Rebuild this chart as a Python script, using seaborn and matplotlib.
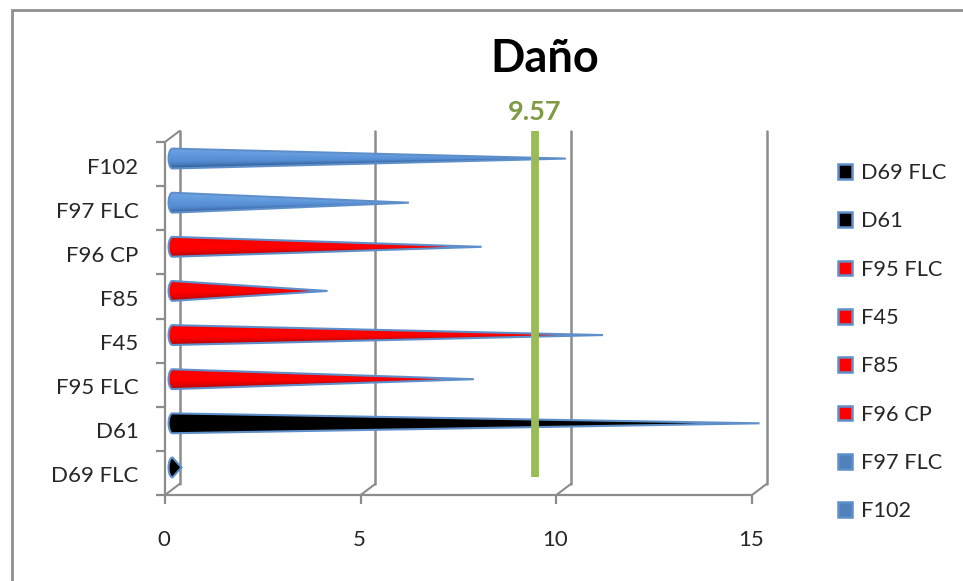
import numpy as np
import pandas as pd
import matplotlib
matplotlib.use("Agg")
import matplotlib.pyplot as plt
from matplotlib.colors import to_rgb
from matplotlib.patches import Patch, Polygon, Rectangle
from matplotlib.transforms import ScaledTranslation, blended_transform_factory
import seaborn as sns

# Damage per specimen, listed from the bottom of the chart to the top
specimens = ["D69 FLC", "D61", "F95 FLC", "F45", "F85", "F96 CP", "F97 FLC", "F102"]
damage = [0.23, 15.0, 7.7, 11.0, 3.96, 7.9, 6.04, 10.05]
groups = ["black", "black", "red", "red", "red", "red", "blue", "blue"]
critical_damage = 9.57
x_ticks = [0, 5, 10, 15]

FACE = {"black": "#000000", "red": "#ff0000", "blue": "#4f81bd"}
SHADES = {
    "black": ("#000000", "#000000", "#000000"),
    "red": ("#f80000", "#ff0000", "#a80808"),
    "blue": ("#6ea4e4", "#5a92d8", "#2f5c96"),
}
OUTLINE = "#5f8fca"
GREY = "#8c8c8c"
TEXT = "#262626"
GREEN = "#9bbb59"

W, H = 963, 581
sns.set_theme(style="white")
plt.rcParams["font.family"] = ["Lato", "DejaVu Sans"]

fig = plt.figure(figsize=(W / 100, H / 100), dpi=100)
ax = fig.add_axes([165 / W, 1 - 495 / H, (752 - 165) / W, (495 - 142) / H])
fig.add_artist(Rectangle((12 / W, -0.02), 2, 1.02 - 10 / H, transform=fig.transFigure,
                         fill=False, edgecolor="#8f8f8f", linewidth=2))

frame = pd.DataFrame({"specimen": specimens, "damage": damage, "group": groups})
top_down = specimens[::-1]
sns.barplot(data=frame, x="damage", y="specimen", order=top_down, hue="group",
            palette=FACE, dodge=False, legend=False, width=0.45, errorbar=None, ax=ax)

ax.set_xlim(0, 15)
ax.set_ylim(7.5, -0.5)
ax.set_xlabel("")
ax.set_ylabel("")


def px_shift(dx, dy):
    return ScaledTranslation(dx / 100, dy / 100, fig.dpi_scale_trans)


cone_tr = ax.transData + px_shift(7.5, 5.5)
wall_tr = ax.transData + px_shift(14.5, 11)

# Back wall: gridlines, with the short floor connectors at each tick
for tick in x_ticks:
    ax.plot([tick, tick], [7.5, -0.5], transform=wall_tr, color=GREY, lw=1.8,
            clip_on=False, zorder=1)
    x0, y0 = ax.transData.transform((tick, 7.5))
    x1, y1 = wall_tr.transform((tick, 7.5))
    ax.plot([x0, x1], [y0, y1], transform=None, color=GREY, lw=1.5, clip_on=False, zorder=1)
x0, y0 = ax.transData.transform((0, -0.5))
x1, y1 = wall_tr.transform((0, -0.5))
ax.plot([x0, x1], [y0, y1], transform=None, color=GREY, lw=1.5, clip_on=False, zorder=1)

# Turn each seaborn bar into a shaded cone lying along the value axis
for bar in list(ax.patches):
    width = bar.get_width()
    centre = bar.get_y() + bar.get_height() / 2
    half = bar.get_height() / 2
    group = groups[specimens.index(top_down[int(round(centre))])]
    bar.remove()

    cap = 0.1
    theta = np.linspace(np.pi / 2, 3 * np.pi / 2, 24)
    outline = np.column_stack([cap * np.cos(theta), centre + half * np.sin(theta)])
    outline = np.vstack([outline, [width, centre]])

    xs = np.linspace(-cap, width, 500)
    ys = np.linspace(centre - half, centre + half, 60)
    grid_x, grid_y = np.meshgrid(xs, ys)
    local = np.maximum(half * (1 - np.clip(grid_x, 0, None) / width), 1e-4)
    u = np.clip((grid_y - centre) / local, -1, 1)
    top, mid, low = (np.array(to_rgb(c)) for c in SHADES[group])
    t_up = np.clip(-u, 0, 1)[..., None]
    t_dn = np.clip(u, 0, 1)[..., None] ** 2
    rgb = mid * (1 - t_up) * (1 - t_dn) + top * t_up + low * t_dn

    im = ax.imshow(rgb, extent=(-cap, width, centre + half, centre - half), aspect="auto",
                   origin="upper", interpolation="bilinear", zorder=3)
    im.set_transform(cone_tr)
    shape = Polygon(outline, closed=True, transform=cone_tr, facecolor="none",
                    edgecolor=OUTLINE, linewidth=1.5, joinstyle="miter", zorder=4, clip_on=False)
    ax.add_patch(shape)
    im.set_clip_path(shape)

ax.set_xlim(0, 15)
ax.set_ylim(7.5, -0.5)

# Critical damage marker
marker_tr = blended_transform_factory(ax.transData + px_shift(-5, 0), ax.transAxes)
ax.plot([critical_damage, critical_damage], [0.051, 1.031], transform=marker_tr, color=GREEN,
        lw=5.6, solid_capstyle="butt", clip_on=False, zorder=5)
ax.text(critical_damage, 1.085, f"{critical_damage:.2f}", transform=marker_tr, color="#7f9b45",
        fontsize=19.5, fontweight="bold", ha="center", va="center", zorder=6)

fig.text(545 / W, 1 - 59 / H, "Daño", fontsize=32.5, fontweight="bold", color="black",
         ha="center", va="center")

# Axes: category labels sit between boundary ticks
sns.despine(ax=ax, top=True, right=True)
for side in ("left", "bottom"):
    ax.spines[side].set_color(GREY)
    ax.spines[side].set_linewidth(1.6)
ax.set_xticks(x_ticks)
ax.set_yticks(range(len(top_down)))
ax.set_yticklabels(top_down)
ax.set_yticks(np.arange(-0.5, 8), minor=True)
ax.tick_params(axis="y", which="major", length=0, pad=19, labelsize=16, labelcolor=TEXT)
ax.tick_params(axis="y", which="minor", length=6.5, width=1.6, color=GREY, left=True)
ax.tick_params(axis="x", which="major", length=6.5, width=1.6, color=GREY, pad=18.5,
               labelsize=16, labelcolor=TEXT, bottom=True)
for label in ax.get_yticklabels():
    label.set_transform(label.get_transform() + px_shift(0, -1.5))
for label in ax.get_xticklabels():
    label.set_transform(label.get_transform() + px_shift(-1, 0))

handles = [Patch(facecolor=FACE[g], edgecolor=OUTLINE, linewidth=1.8, label=s)
           for s, g in zip(specimens, groups)]
fig.legend(handles=handles, loc="upper left", bbox_to_anchor=(837.5 / W, 1 - 163 / H),
           frameon=False, fontsize=15.7, labelcolor=TEXT, handlelength=0.65, handleheight=0.65,
           handletextpad=0.42, labelspacing=1.3, borderpad=0, borderaxespad=0)

fig.savefig("out.png", dpi=100)
